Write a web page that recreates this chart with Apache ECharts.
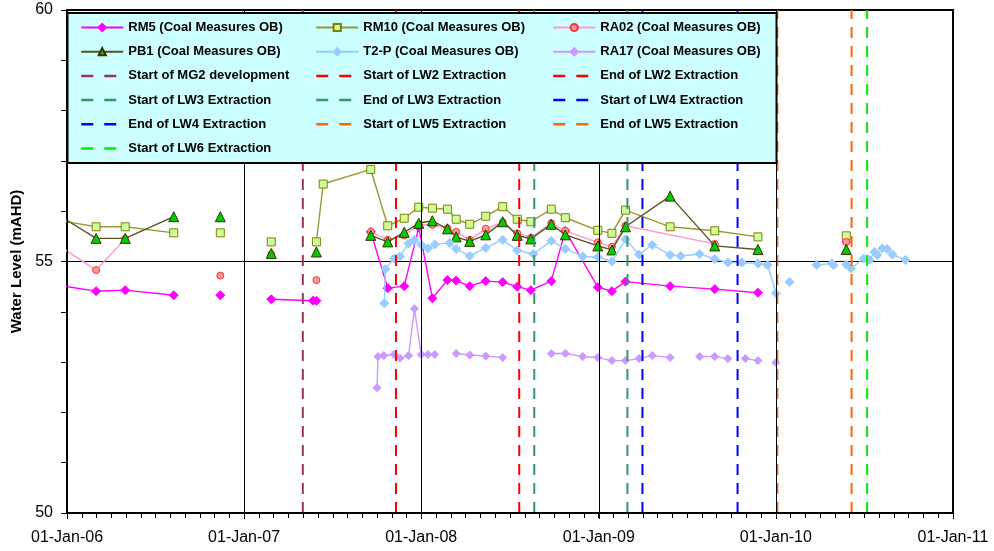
<!DOCTYPE html>
<html>
<head>
<meta charset="utf-8">
<script src="https://cdn.jsdelivr.net/npm/echarts@6/dist/echarts.min.js"></script>
<style>
  html, body { margin: 0; padding: 0; background: #ffffff; }
  #chart { width: 994px; height: 551px; }
</style>
</head>
<body>
<div id="chart"></div>
<script>
// ---------------- DATA (null value = break in the line) ----------------
const rm5Dates = ['2005-11-01','2006-03-02','2006-05-01','2006-08-09','2006-08-09','2006-11-13','2006-11-13','2007-02-26','2007-05-23','2007-05-30','2007-05-30','2007-09-19','2007-10-24','2007-11-27','2007-12-27','2008-01-24','2008-02-24','2008-03-13','2008-04-10','2008-05-13','2008-06-17','2008-07-17','2008-08-14','2008-09-25','2008-10-24','2008-12-30','2009-01-28','2009-02-25','2009-05-28','2009-08-28','2009-11-25','2009-11-25','2010-05-26'];
const rm5Values = [54.59,54.41,54.43,54.33,null,54.33,null,54.25,54.22,54.22,null,55.59,54.47,54.51,55.68,54.27,54.63,54.62,54.51,54.61,54.59,54.50,54.43,54.61,55.61,54.49,54.41,54.60,54.51,54.45,54.38,null,55.39];

const rm10Dates = ['2005-11-01','2006-03-02','2006-05-01','2006-08-09','2006-08-09','2006-11-13','2006-11-13','2007-02-26','2007-02-26','2007-05-30','2007-06-13','2007-09-19','2007-10-24','2007-11-27','2007-12-27','2008-01-24','2008-02-24','2008-03-13','2008-04-10','2008-05-13','2008-06-17','2008-07-17','2008-08-14','2008-09-25','2008-10-24','2008-12-30','2009-01-28','2009-02-25','2009-05-28','2009-08-28','2009-11-25','2009-11-25','2010-05-26'];
const rm10Values = [55.89,55.69,55.69,55.57,null,55.57,null,55.39,null,55.39,56.54,56.83,55.71,55.86,56.08,56.06,56.04,55.84,55.74,55.90,56.09,55.84,55.79,56.04,55.87,55.62,55.56,56.02,55.69,55.61,55.49,null,55.51];

const ra02Dates = ['2005-11-01','2006-03-02','2006-05-01','2006-05-01','2006-11-13','2006-11-13','2007-02-26','2007-02-26','2007-05-30','2007-05-30','2007-09-19','2007-10-24','2007-11-27','2007-12-27','2008-01-24','2008-02-24','2008-03-13','2008-04-10','2008-05-13','2008-06-17','2008-07-17','2008-08-14','2008-09-25','2008-10-24','2008-12-30','2009-01-28','2009-02-25','2009-08-28','2009-08-28','2010-05-26'];
const ra02Values = [55.59,54.83,55.45,null,54.72,null,55.14,null,54.63,null,55.59,55.43,55.52,55.73,55.73,55.66,55.59,55.43,55.65,55.78,55.56,55.47,55.76,55.61,55.38,55.29,55.71,55.35,null,55.39];

const pb1Dates = ['2005-11-01','2006-03-02','2006-05-01','2006-08-09','2006-08-09','2006-11-13','2006-11-13','2007-02-26','2007-02-26','2007-05-30','2007-05-30','2007-09-19','2007-10-24','2007-11-27','2007-12-27','2008-01-24','2008-02-24','2008-03-13','2008-04-10','2008-05-13','2008-06-17','2008-07-17','2008-08-14','2008-09-25','2008-10-24','2008-12-30','2009-01-28','2009-02-25','2009-05-28','2009-08-28','2009-11-25','2009-11-25','2010-05-26'];
const pb1Values = [56.18,55.46,55.46,55.89,null,55.89,null,55.16,null,55.19,null,55.52,55.39,55.58,55.76,55.81,55.65,55.49,55.40,55.53,55.79,55.52,55.45,55.74,55.53,55.31,55.23,55.69,56.30,55.31,55.24,null,55.24];

const t2pDates = ['2007-10-17','2007-10-19','2007-11-06','2007-11-18','2007-12-06','2007-12-18','2008-01-01','2008-01-15','2008-01-29','2008-02-29','2008-03-13','2008-04-10','2008-05-13','2008-06-17','2008-07-17','2008-08-19','2008-09-25','2008-10-24','2008-11-29','2008-12-30','2009-01-28','2009-02-25','2009-03-25','2009-04-21','2009-05-28','2009-06-19','2009-07-28','2009-08-28','2009-09-24','2009-10-23','2009-11-25','2009-12-15','2010-01-01','2010-01-01','2010-01-29','2010-01-29','2010-03-26','2010-04-26','2010-04-30','2010-04-30','2010-05-26','2010-06-05','2010-07-01','2010-07-13','2010-07-23','2010-07-29','2010-08-08','2010-08-18','2010-08-29','2010-09-25'];
const t2pValues = [54.17,54.85,55.06,55.10,55.36,55.43,55.33,55.26,55.34,55.37,55.25,55.11,55.27,55.43,55.22,55.15,55.41,55.25,55.10,55.09,55.00,55.44,55.14,55.33,55.13,55.11,55.15,55.05,54.98,54.98,54.96,54.93,54.37,null,54.59,null,54.93,54.96,54.93,null,54.94,54.86,55.06,55.03,55.19,55.13,55.26,55.25,55.14,55.03];

const ra17Dates = ['2007-10-02','2007-10-04','2007-10-16','2007-11-06','2007-11-18','2007-12-06','2007-12-18','2008-01-01','2008-01-15','2008-01-29','2008-01-29','2008-03-13','2008-04-10','2008-05-13','2008-06-17','2008-06-17','2008-09-25','2008-10-24','2008-11-29','2008-12-30','2009-01-28','2009-02-25','2009-03-25','2009-04-21','2009-05-28','2009-05-28','2009-07-28','2009-08-28','2009-09-24','2009-09-24','2009-10-30','2009-11-25','2009-11-25','2010-01-01'];
const ra17Values = [52.49,53.11,53.13,53.15,53.08,53.13,54.06,53.15,53.15,53.15,null,53.17,53.14,53.12,53.09,null,53.17,53.17,53.11,53.09,53.03,53.03,53.07,53.13,53.09,null,53.11,53.11,53.07,null,53.07,53.03,null,52.99];

const seriesNames = ['RM5 (Coal Measures OB)','RM10 (Coal Measures OB)','RA02 (Coal Measures OB)','PB1 (Coal Measures OB)','T2-P (Coal Measures OB)','RA17 (Coal Measures OB)'];

const eventNames = ['Start of MG2 development','Start of LW2 Extraction','End of LW2 Extraction','Start of LW3 Extraction','End of LW3 Extraction','Start of LW4 Extraction','End of LW4 Extraction','Start of LW5 Extraction','End of LW5 Extraction','Start of LW6 Extraction'];
const eventDates = ['2007-05-02','2007-11-10','2008-07-21','2008-08-21','2009-03-01','2009-04-01','2009-10-14','2010-01-04','2010-06-06','2010-07-08'];
const eventColors = ['#993366','#FF0000','#FF0000','#339966','#339966','#0000FF','#0000FF','#FF6600','#FF6600','#00EE00'];

const yRange = [50, 60];
const xRange = ['2006-01-01', '2011-01-01'];
const monthCount = 60; // monthly minor tick marks along the date axis

// ---------------- CHART ----------------
function zip(d, v) { return d.map((x, i) => [x, v[i]]); }
const FONT = '"Liberation Sans", Arial, sans-serif';

const styles = [
  { line: '#FF00FF', symbol: 'diamond',  size: 9,  fill: '#FF00FF', border: '#FF00FF' },
  { line: '#999933', symbol: 'rect',     size: 8,  fill: '#CCFF99', border: '#808000' },
  { line: '#FF99CC', symbol: 'circle',   size: 7,  fill: '#FF9999', border: '#FF3333' },
  { line: '#555522', symbol: 'triangle', size: 10, fill: '#00CC00', border: '#333300' },
  { line: '#99CCFF', symbol: 'diamond',  size: 9,  fill: '#99CCFF', border: '#99CCFF' },
  { line: '#CC99FF', symbol: 'diamond',  size: 8,  fill: '#CC99FF', border: '#CC99FF' }
];
const dataSets = [zip(rm5Dates, rm5Values), zip(rm10Dates, rm10Values), zip(ra02Dates, ra02Values),
                  zip(pb1Dates, pb1Values), zip(t2pDates, t2pValues), zip(ra17Dates, ra17Values)];

const series = [];
seriesNames.forEach((n, i) => {
  const s = styles[i];
  series.push({
    name: n, type: 'line', data: dataSets[i], xAxisIndex: 0,
    connectNulls: false, clip: true,
    symbol: s.symbol, symbolSize: s.size, showSymbol: true, showAllSymbol: true,
    lineStyle: { color: s.line, width: 1.4 },
    itemStyle: { color: s.fill, borderColor: s.border, borderWidth: 1 },
    emphasis: { disabled: true },
    z: 3 + i
  });
});
eventNames.forEach((n, i) => {
  series.push({
    name: n, type: 'line', symbol: 'none', showSymbol: false, xAxisIndex: 0,
    data: [[eventDates[i], yRange[0]], [eventDates[i], yRange[1]]],
    lineStyle: { color: eventColors[i], width: 2, type: [11, 8] },
    itemStyle: { color: eventColors[i] },
    emphasis: { disabled: true },
    z: 10
  });
});

function legendItem(name) {
  const idx = eventNames.indexOf(name);
  if (idx >= 0) return { name: name, lineStyle: { type: [12, 11], width: 2.5 }, itemStyle: { opacity: 0 } };
  return { name: name };
}
const col1 = [seriesNames[0], seriesNames[3], eventNames[0], eventNames[3], eventNames[6], eventNames[9]];
const col2 = [seriesNames[1], seriesNames[4], eventNames[1], eventNames[4], eventNames[7]];
const col3 = [seriesNames[2], seriesNames[5], eventNames[2], eventNames[5], eventNames[8]];
function makeLegend(list, left) {
  return {
    orient: 'vertical', left: left, top: 20.5, padding: 0,
    itemWidth: 42, itemHeight: 9, itemGap: 10.2,
    selectedMode: false, z: 30,
    textStyle: { color: '#000', fontSize: 13, fontWeight: 'bold', fontFamily: FONT, lineHeight: 14, height: 14, padding: [0, 0, 0, 0] },
    data: list.map(legendItem)
  };
}

const chart = echarts.init(document.getElementById('chart'), null, { renderer: 'canvas' });
chart.setOption({
  animation: false,
  backgroundColor: '#ffffff',
  grid: { left: 67, right: 41, top: 10, bottom: 38, show: true, borderColor: '#000', borderWidth: 2, backgroundColor: '#fff' },
  legend: [makeLegend(col1, 80), makeLegend(col2, 315), makeLegend(col3, 552)],
  graphic: [{
    type: 'rect', z: 25, silent: true,
    shape: { x: 67.5, y: 13, width: 709, height: 150 },
    style: { fill: '#CCFFFF', stroke: '#000', lineWidth: 2 }
  }],
  xAxis: [{
    type: 'time',
    min: xRange[0], max: xRange[1],
    splitNumber: 5,
    minInterval: 365 * 24 * 3600 * 1000,
    axisLine: { show: true, lineStyle: { color: '#000', width: 2 } },
    axisTick: { show: true, length: 6, lineStyle: { color: '#000', width: 1 } },
    splitLine: { show: true, lineStyle: { color: '#000', width: 1 } },
    axisLabel: {
      color: '#000', fontSize: 16, fontFamily: FONT, margin: 17,
      showMinLabel: true, showMaxLabel: true,
      formatter: function (v) { return echarts.time.format(v, '{dd}-{MMM}-{yy}', false); }
    },
    z: 12
  }, {
    // month tick marks along the bottom axis (no data on it)
    type: 'value', position: 'bottom', offset: 0,
    min: 0, max: monthCount, interval: 1,
    axisLine: { show: true, onZero: false, lineStyle: { color: '#000', width: 2 } },
    axisTick: { show: true, inside: false, interval: 0, length: 5, lineStyle: { color: '#000', width: 1 } },
    splitLine: { show: false },
    axisLabel: { show: true, color: 'rgba(0,0,0,0)', fontSize: 6, formatter: function () { return '.'; } },
    z: 12
  }],
  yAxis: {
    type: 'value', min: yRange[0], max: yRange[1], interval: 5,
    name: 'Water Level (mAHD)', nameLocation: 'middle', nameGap: 39,
    nameTextStyle: { color: '#000', fontSize: 15, fontWeight: 'bold', fontFamily: FONT },
    axisLine: { show: true, lineStyle: { color: '#000', width: 2 } },
    axisTick: { show: true, length: 6, lineStyle: { color: '#000', width: 1 } },
    minorTick: { show: true, splitNumber: 5, length: 6, lineStyle: { color: '#000', width: 1 } },
    splitLine: { show: true, lineStyle: { color: '#000', width: 1 } },
    axisLabel: { color: '#000', fontSize: 16, fontFamily: FONT, margin: 14 }
  },
  series: series
});
</script>
</body>
</html>
